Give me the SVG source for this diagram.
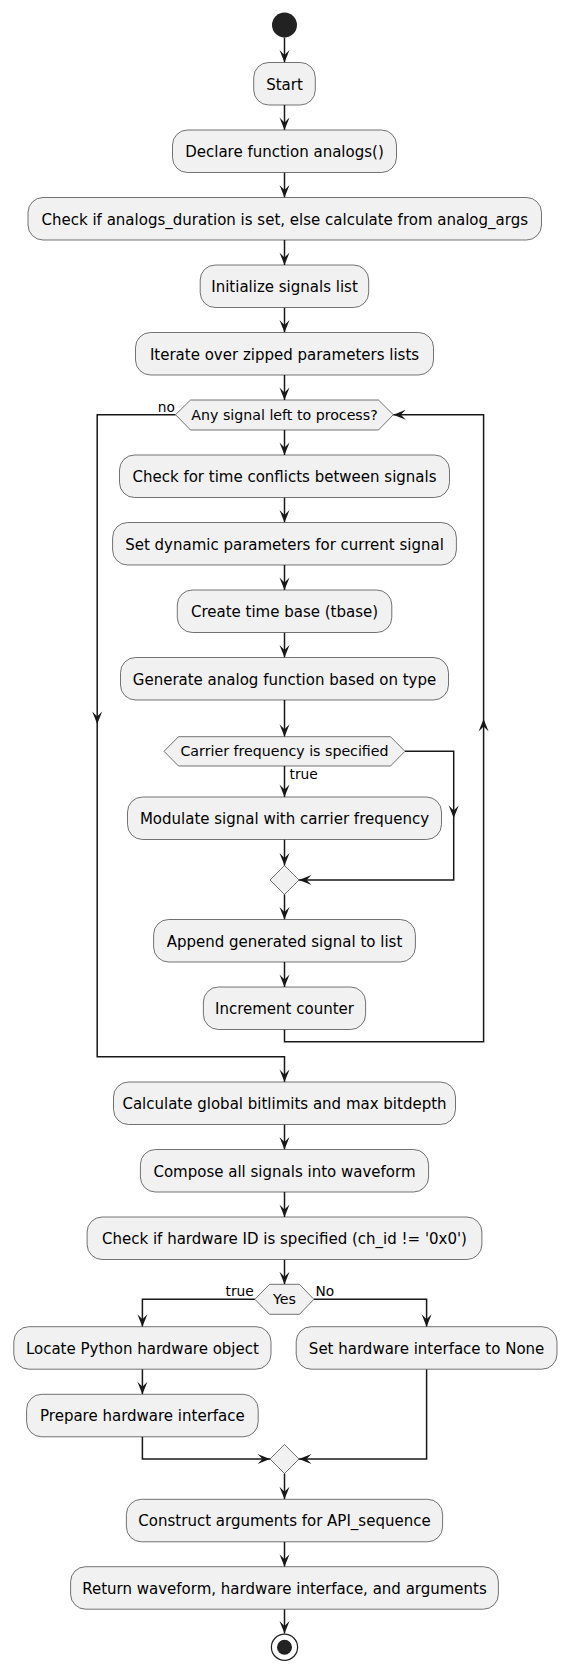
<svg xmlns="http://www.w3.org/2000/svg" width="571" height="1675" viewBox="0 0 571 1675">
<style>
.box{fill:#F1F1F1;stroke:#181818;stroke-width:0.6}
.t{font-family:"DejaVu Sans",sans-serif;font-size:15px;fill:#000;text-anchor:middle}
.ht{font-family:"DejaVu Sans",sans-serif;font-size:14.2px;fill:#000;text-anchor:middle}
.lb{font-family:"DejaVu Sans",sans-serif;font-size:13.75px;fill:#000}
.c{fill:none;stroke:#181818;stroke-width:1.5}
</style>
<defs>
<marker id="ah" markerUnits="userSpaceOnUse" viewBox="-13 -6 14 12" markerWidth="14" markerHeight="12" refX="0" refY="0" orient="auto">
<path d="M0,0 L-12.5,-5 L-7.5,0 L-12.5,5 Z" fill="#181818"/>
</marker>
</defs>
<g id="connectors">
<path class="c" marker-end="url(#ah)" d="M284.5,37.5 V62.5"/>
<path class="c" marker-end="url(#ah)" d="M284.5,105 V130"/>
<path class="c" marker-end="url(#ah)" d="M284.5,172.5 V197.5"/>
<path class="c" marker-end="url(#ah)" d="M284.5,240 V265"/>
<path class="c" marker-end="url(#ah)" d="M284.5,307.5 V332.5"/>
<path class="c" marker-end="url(#ah)" d="M284.5,375 V400"/>
<path class="c" marker-end="url(#ah)" d="M284.5,430 V455"/>
<path class="c" marker-end="url(#ah)" d="M284.5,497.5 V522.5"/>
<path class="c" marker-end="url(#ah)" d="M284.5,565 V590"/>
<path class="c" marker-end="url(#ah)" d="M284.5,632.5 V657.5"/>
<path class="c" marker-end="url(#ah)" d="M284.5,700 V736.7"/>
<path class="c" marker-end="url(#ah)" d="M284.5,766 V797"/>
<path class="c" marker-end="url(#ah)" d="M284.5,839.5 V865.5"/>
<path class="c" marker-end="url(#ah)" d="M405,751.3 H453.7 V818"/>
<path class="c" marker-end="url(#ah)" d="M453.7,818 V880 H299"/>
<path class="c" marker-end="url(#ah)" d="M284.5,894.5 V919.5"/>
<path class="c" marker-end="url(#ah)" d="M284.5,962 V987"/>
<path class="c" marker-end="url(#ah)" d="M284.5,1029.5 V1041.7 H483.6 V719"/>
<path class="c" marker-end="url(#ah)" d="M483.6,719 V414.7 H393.3"/>
<path class="c" marker-end="url(#ah)" d="M175.5,414.7 H97.2 V724"/>
<path class="c" marker-end="url(#ah)" d="M97.2,724 V1056.7 H284.5 V1082"/>
<path class="c" marker-end="url(#ah)" d="M284.5,1124.5 V1149.5"/>
<path class="c" marker-end="url(#ah)" d="M284.5,1192 V1217"/>
<path class="c" marker-end="url(#ah)" d="M284.5,1259.5 V1284.3"/>
<path class="c" marker-end="url(#ah)" d="M254.9,1299.3 H142.4 V1326.7"/>
<path class="c" marker-end="url(#ah)" d="M313.9,1299.3 H426.6 V1326.7"/>
<path class="c" marker-end="url(#ah)" d="M142.4,1369.2 V1394.3"/>
<path class="c" marker-end="url(#ah)" d="M142.4,1436.8 V1459 H270"/>
<path class="c" marker-end="url(#ah)" d="M426.6,1369.2 V1459 H299"/>
<path class="c" marker-end="url(#ah)" d="M284.5,1473.5 V1499.3"/>
<path class="c" marker-end="url(#ah)" d="M284.5,1541.8 V1566.7"/>
<path class="c" marker-end="url(#ah)" d="M284.5,1609.2 V1633.5"/>
<text class="lb" x="175" y="411.7" text-anchor="end">no</text>
<text class="lb" x="289.5" y="779.3">true</text>
<text class="lb" x="253.8" y="1295.7" text-anchor="end">true</text>
<text class="lb" x="315.4" y="1295.7">No</text>
</g>
<g id="start"><circle cx="284.5" cy="25" r="12.5" fill="#222222"/></g>
<g id="n1"><rect class="box" x="253.7" y="62.5" width="61.6" height="42.5" rx="15"/><text class="t" x="284.5" y="89.5">Start</text></g>
<g id="n2"><rect class="box" x="172.5" y="130" width="224" height="42.5" rx="15"/><text class="t" x="284.5" y="157">Declare function analogs()</text></g>
<g id="n3"><rect class="box" x="28" y="197.5" width="513.5" height="42.5" rx="15"/><text class="t" x="284.75" y="224.5">Check if analogs_duration is set, else calculate from analog_args</text></g>
<g id="n4"><rect class="box" x="200.2" y="265" width="168.5" height="42.5" rx="15"/><text class="t" x="284.5" y="292">Initialize signals list</text></g>
<g id="n5"><rect class="box" x="135.5" y="332.5" width="298" height="42.5" rx="15"/><text class="t" x="284.5" y="359.5">Iterate over zipped parameters lists</text></g>
<g id="d1"><polygon class="box" points="175.5,414.7 190.5,400 378.5,400 393.3,414.7 378.5,430 190.5,430"/><text class="ht" x="284.5" y="419.5">Any signal left to process?</text></g>
<g id="n6"><rect class="box" x="119.5" y="455" width="330" height="42.5" rx="15"/><text class="t" x="284.5" y="482">Check for time conflicts between signals</text></g>
<g id="n7"><rect class="box" x="112.6" y="522.5" width="343.8" height="42.5" rx="15"/><text class="t" x="284.5" y="549.5">Set dynamic parameters for current signal</text></g>
<g id="n8"><rect class="box" x="177.3" y="590" width="214.5" height="42.5" rx="15"/><text class="t" x="284.5" y="617">Create time base (tbase)</text></g>
<g id="n9"><rect class="box" x="120.5" y="657.5" width="328" height="42.5" rx="15"/><text class="t" x="284.5" y="684.5">Generate analog function based on type</text></g>
<g id="d2"><polygon class="box" points="164,751.3 178.5,736.7 390.5,736.7 405,751.3 390.5,766 178.5,766"/><text class="ht" x="284.5" y="756.2">Carrier frequency is specified</text></g>
<g id="n10"><rect class="box" x="127.5" y="797" width="314" height="42.5" rx="15"/><text class="t" x="284.5" y="824">Modulate signal with carrier frequency</text></g>
<g id="m1"><polygon class="box" points="284.5,865.5 299,880 284.5,894.5 270,880"/></g>
<g id="n11"><rect class="box" x="153.6" y="919.5" width="261.8" height="42.5" rx="15"/><text class="t" x="284.5" y="946.5">Append generated signal to list</text></g>
<g id="n12"><rect class="box" x="203.4" y="987" width="162.2" height="42.5" rx="15"/><text class="t" x="284.5" y="1014">Increment counter</text></g>
<g id="n13"><rect class="box" x="113.5" y="1082" width="342" height="42.5" rx="15"/><text class="t" x="284.5" y="1109">Calculate global bitlimits and max bitdepth</text></g>
<g id="n14"><rect class="box" x="140.4" y="1149.5" width="288.2" height="42.5" rx="15"/><text class="t" x="284.5" y="1176.5">Compose all signals into waveform</text></g>
<g id="n15"><rect class="box" x="87.1" y="1217" width="394.8" height="42.5" rx="15"/><text class="t" x="284.5" y="1244">Check if hardware ID is specified (ch_id != '0x0')</text></g>
<g id="d3"><polygon class="box" points="254.9,1299.3 269.5,1284.3 299.5,1284.3 313.9,1299.3 299.5,1314.3 269.5,1314.3"/><text class="ht" x="284.5" y="1304.2">Yes</text></g>
<g id="n16"><rect class="box" x="13.8" y="1326.7" width="257.2" height="42.5" rx="15"/><text class="t" x="142.4" y="1353.7">Locate Python hardware object</text></g>
<g id="n17"><rect class="box" x="296.2" y="1326.7" width="260.8" height="42.5" rx="15"/><text class="t" x="426.6" y="1353.7">Set hardware interface to None</text></g>
<g id="n18"><rect class="box" x="26.6" y="1394.3" width="231.6" height="42.5" rx="15"/><text class="t" x="142.4" y="1421.3">Prepare hardware interface</text></g>
<g id="m2"><polygon class="box" points="284.5,1444.5 299,1459 284.5,1473.5 270,1459"/></g>
<g id="n19"><rect class="box" x="126.4" y="1499.3" width="316.2" height="42.5" rx="15"/><text class="t" x="284.5" y="1526.3">Construct arguments for API_sequence</text></g>
<g id="n20"><rect class="box" x="70.6" y="1566.7" width="427.8" height="42.5" rx="15"/><text class="t" x="284.5" y="1593.7">Return waveform, hardware interface, and arguments</text></g>
<g id="stop"><circle cx="284.5" cy="1647.3" r="13.1" fill="none" stroke="#222222" stroke-width="1.25"/><circle cx="284.5" cy="1647.3" r="7.5" fill="#222222"/></g>
</svg>
